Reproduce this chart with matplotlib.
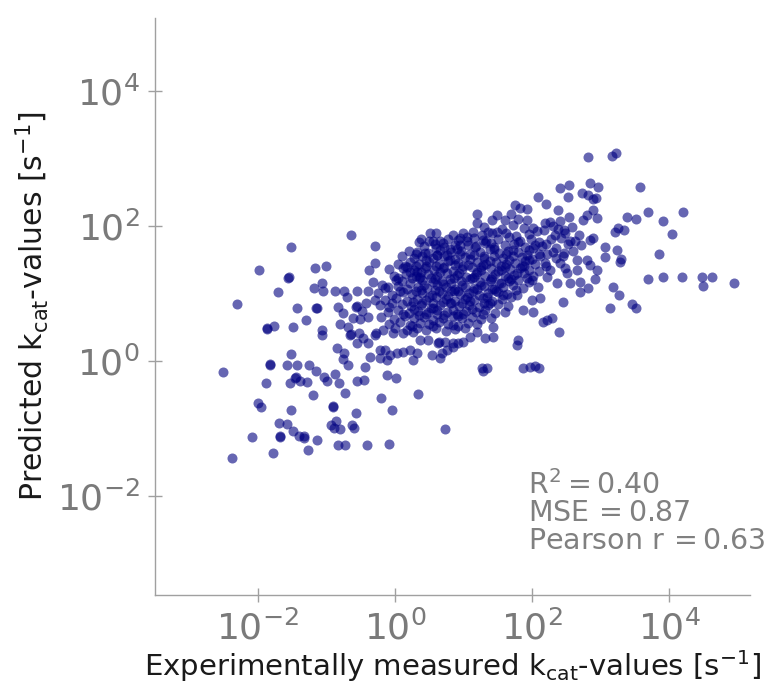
import matplotlib
matplotlib.use("Agg")
import numpy as np
import matplotlib.pyplot as plt

# log10 of kcat [1/s]: scattered points around the main cloud
outer_measured = [
    -0.64, -1.52, -0.29, -1.99, -1.17, -1.01, -1.56, -1.55, -0.29, -0.38,
    -0.32, -1.71, -1.18, -1.07, -1.05, -0.88, -0.74, -0.55, -0.70, -0.39,
    -2.31, -1.43, -1.15, -1.14, -0.83, -0.76, -0.57, -0.56, -0.48, -0.42,
    -0.29, -1.30, -0.61, -0.51, -0.39, -1.87, -1.86, -1.77, -1.49, -1.07,
    -1.07, -0.80, -0.69, -0.66, -0.64, -0.53, -0.47, -0.55, -0.39, -0.29,
    -0.85, -0.74, -0.76, -0.69, -1.52, -0.37, -0.44, -2.51, -1.83, -1.82,
    -1.58, -1.43, -1.26, -1.15, -1.46, -1.45, -1.53, -1.39, -1.28, -1.04,
    -0.99, -0.88, -0.82, -0.55, -0.45, -1.88, -1.20, -0.73, -2.00, -1.96,
    -1.52, -0.91, -0.90, -0.57, -1.69, -1.58, -1.49, -1.40, -1.33, -1.32,
    -0.93, -0.86, -0.80, -0.89, -0.63, -0.60, -2.09, -1.68, -1.67, -1.14,
    -0.83, -0.73, -0.41, -1.78, -1.27, -2.38, -0.09, 0.73, 0.34, -0.20,
    -0.04, -0.12, 0.01,
    -0.28, -0.18, -0.03, 0.12, 0.26, 0.37, 0.48, 0.63, 0.64, 0.73,
    0.85, 0.99, 1.09, 1.20, 1.31, 1.43, -0.22, -0.15, -0.07, 0.03,
    0.12, 0.22, 0.32, 0.26, -0.12, -0.22, 0.54, 0.69, 0.66, 0.76,
    0.85, 0.92, 1.27, 1.34, 1.28, 1.87, 1.97, 2.04, 2.10,
    1.20, 1.42, 1.49, 1.20, 1.14, 1.05, 0.51, 0.60, 0.66, 0.38,
    0.50, 0.95, 1.07, 0.88, 0.80, 1.28, 1.42, 1.49, 0.32, 0.44,
    0.61, 0.76, -0.09, 0.18, 0.22, 0.32, 0.37, -0.19, -0.10, 0.01,
    2.82, 3.17, 3.23, 2.41, 2.54, 2.85, 2.96, 2.09, 2.20, 2.53,
    2.73, 2.82, 2.89, 2.93, 1.75, 1.83, 1.93, 2.38, 2.89, 2.95,
    2.80, 2.74, 2.54, 2.41, 2.26, 1.61, 1.80, 1.93, 1.69, 2.01,
    2.19, 2.18, 2.38, 2.58, 3.21, 3.26, 2.85, 2.89, 3.07, 3.24,
    3.58, 3.39, 3.52, 3.69, 3.91, 4.20, 4.04, 3.34, 3.30, 3.29,
    3.85, 3.69, 3.91, 4.19, 4.48, 4.63, 4.50, 4.95, 3.18, 3.27,
    3.46, 3.52, 3.14, 3.07, 2.92, 2.70, 2.82, 2.39, 2.45, 2.22,
    2.29, 2.16, 1.80, 1.78, 1.43, 2.09, 2.00, 2.12, 1.87, 2.01,
    2.37, 2.55, 2.70, 2.51, 2.66, 2.85, 2.95, 2.80, 2.66, 2.22,
    2.26, 2.19, 2.41, 2.00, 1.87, 1.78, 1.58,
]
outer_predicted = [
    1.87, 1.69, 1.70, 1.35, 1.38, 1.41, 1.23, 1.24, 1.45, 1.35,
    1.17, 1.02, 1.08, 1.16, 1.04, 1.04, 1.04, 1.04, 0.95, 1.04,
    0.84, 0.78, 0.78, 0.79, 0.80, 0.71, 0.80, 0.81, 0.74, 0.86,
    0.90, 0.61, 0.64, 0.62, 0.65, 0.47, 0.48, 0.52, 0.50, 0.46,
    0.39, 0.55, 0.50, 0.39, 0.40, 0.41, 0.34, 0.27, 0.27, 0.39,
    0.19, 0.12, 0.03, -0.06, 0.10, 0.06, -0.09, -0.16, -0.06, -0.05,
    -0.06, -0.06, -0.06, -0.15, -0.25, -0.24, -0.33, -0.30, -0.31, -0.24,
    -0.30, -0.19, -0.33, -0.30, -0.28, -0.33, -0.50, -0.47, -0.62, -0.68,
    -0.73, -0.68, -0.67, -0.77, -0.92, -0.93, -1.04, -1.11, -1.14, -1.12,
    -0.95, -0.89, -1.01, -0.99, -0.95, -0.99, -1.13, -1.13, -1.11, -1.18,
    -1.24, -1.24, -1.24, -1.36, -1.32, -1.44, -1.23, -1.01, -0.49, -0.55,
    -0.73, -0.21, -0.25,
    0.41, 0.46, 0.41, 0.41, 0.43, 0.31, 0.31, 0.27, 0.28, 0.28,
    0.27, 0.28, 0.36, 0.43, 0.34, 0.36, 0.16, 0.16, 0.09, 0.12,
    0.13, 0.16, 0.12, 0.01, 0.01, 0.04, 0.09, 0.12, 0.04, 0.16,
    0.21, 0.27, -0.10, -0.10, -0.15, -0.10, -0.09, -0.07, -0.10,
    2.18, 2.09, 2.16, 2.04, 1.91, 1.84, 1.90, 1.90, 1.78, 1.81,
    1.78, 1.82, 1.72, 1.72, 1.66, 1.79, 1.90, 1.91, 1.61, 1.60,
    1.57, 1.57, 1.36, 1.39, 1.32, 1.32, 1.24, 1.13, 1.10, 1.20,
    3.02, 3.04, 3.08, 2.56, 2.61, 2.64, 2.58, 2.43, 2.33, 2.43,
    2.49, 2.46, 2.40, 2.41, 2.31, 2.27, 2.25, 2.24, 2.24, 2.12,
    2.16, 2.09, 2.13, 2.07, 2.06, 2.09, 2.10, 2.09, 2.18, 1.97,
    2.04, 1.94, 1.95, 1.98, 1.91, 1.97, 1.79, 1.82, 1.69, 1.64,
    2.58, 2.13, 2.10, 2.21, 2.07, 2.21, 1.88, 1.94, 1.51, 1.47,
    1.58, 1.21, 1.24, 1.24, 1.24, 1.24, 1.11, 1.16, 1.10, 0.98,
    0.84, 0.78, 0.78, 1.54, 1.21, 1.02, 1.08, 0.43, 0.87, 0.61,
    0.64, 0.58, 0.31, 0.24, 0.50, 1.10, 0.90, 0.93, 0.76, 0.73,
    1.16, 1.16, 1.17, 1.30, 1.35, 1.42, 1.35, 1.50, 1.50, 1.24,
    1.35, 1.45, 1.45, 1.20, 1.08, 0.98, 0.98,
]

# log10 of kcat [1/s]: dense central cloud
core_measured = [
    1.30, 1.56, 1.72, 1.88, 2.30, 2.47,
    0.85, 1.00, 1.27, 1.36, 1.62, 1.76, 1.95, 2.07, 2.33, 2.48, 2.68,
    0.55, 0.78, 0.92, 1.15, 1.33, 1.50, 1.66, 1.82, 1.98, 2.10, 2.28, 2.42, 2.62,
    0.42, 0.58, 0.72, 0.95, 1.18, 1.32, 1.45, 1.60, 1.74, 1.90, 2.05, 2.15, 2.35, 2.52, 2.72,
    0.20, 0.48, 0.66, 0.82, 0.97, 1.10, 1.24, 1.38, 1.52, 1.65, 1.80, 1.95, 2.10, 2.30, 2.47, 2.60,
    0.10, 0.28, 0.40, 0.55, 0.72, 0.88, 1.02, 1.16, 1.30, 1.44, 1.58, 1.72, 1.86, 2.00, 2.12, 2.35,
    0.05, 0.22, 0.35, 0.50, 0.64, 0.78, 0.92, 1.06, 1.20, 1.33, 1.48, 1.62, 1.75, 1.90, 2.04,
    0.12, 0.28, 0.44, 0.57, 0.70, 0.85, 0.98, 1.12, 1.26, 1.40, 1.55, 1.68, 1.82, 1.96, 2.10,
    -0.02, 0.16, 0.30, 0.48, 0.62, 0.76, 0.90, 1.04, 1.18, 1.32, 1.46, 1.60, 1.74, 1.88, 2.02,
    0.10, 0.22, 0.40, 0.55, 0.68, 0.82, 0.96, 1.10, 1.24, 1.38, 1.52, 1.66, 1.80, 1.95,
    -0.15, 0.05, 0.18, 0.33, 0.47, 0.62, 0.75, 0.88, 1.02, 1.16, 1.30, 1.45, 1.58, 1.72,
    -0.25, -0.05, 0.12, 0.25, 0.40, 0.54, 0.68, 0.82, 0.95, 1.08, 1.22, 1.36, 1.50, 1.64,
    -0.15, 0.02, 0.18, 0.32, 0.46, 0.60, 0.74, 0.88, 1.02, 1.15, 1.28, 1.42, 1.56, 1.70,
    -0.22, -0.08, 0.10, 0.24, 0.38, 0.52, 0.66, 0.80, 0.94, 1.08, 1.22, 1.36, 1.50, 1.65,
    -0.10, 0.05, 0.20, 0.34, 0.48, 0.62, 0.76, 0.90, 1.04, 1.18, 1.32, 1.46, 1.60,
    -0.20, -0.02, 0.14, 0.28, 0.42, 0.56, 0.70, 0.84, 0.98, 1.12, 1.26, 1.40,
    -0.08, 0.08, 0.22, 0.36, 0.50, 0.64, 0.78, 0.92, 1.06, 1.20,
    0.00, 0.18, 0.32, 0.46, 0.60, 0.74, 0.88, 1.02,
    0.60, 0.90, 1.17, 1.45, 1.72, 2.02,
    0.45, 0.80, 1.10, 1.38, 1.66, 1.95,
    0.30, 0.60, 0.88, 1.25, 1.55, 1.85,
    0.38, 0.66, 0.93, 1.20, 1.50, 1.78,
    0.25, 0.52, 0.80, 1.12, 1.42, 1.70,
    0.42, 0.70, 0.98, 1.25, 1.55,
    0.30, 0.58, 0.86, 1.14, 1.42,
    0.50, 0.78, 1.05, 1.35,
    0.40, 0.70, 0.98, 1.30,
    0.28, 0.56, 0.85, 1.12,
    0.35, 0.62, 0.92,
    0.35, 0.70, 1.05, 1.40, 1.80, 2.20, 2.55,
    0.30, 0.62, 0.95, 1.30, 1.62, 1.92, 2.22, 2.45,
    0.15, 0.45, 0.72, 1.00, 1.28, 1.60, 1.88, 2.20, 2.48,
    0.05, 0.35, 0.58, 0.86, 1.15, 1.40, 1.65, 1.92,
    0.08, 0.38, 0.65, 0.92, 1.20, 1.48, 1.76,
    -0.05, 0.26, 0.55, 0.82, 1.10, 1.38,
    0.12, 0.45, 0.72, 1.00, 1.28,
    0.25, 0.55, 0.85,
]
core_predicted = [
    1.99, 1.95, 2.02, 1.97, 2.00, 1.94,
    1.86, 1.90, 1.87, 1.91, 1.89, 1.85, 1.88, 1.92, 1.86, 1.89, 1.87,
    1.78, 1.81, 1.79, 1.82, 1.77, 1.80, 1.83, 1.78, 1.81, 1.76, 1.80, 1.82, 1.78,
    1.70, 1.73, 1.69, 1.72, 1.70, 1.74, 1.68, 1.71, 1.73, 1.69, 1.72, 1.70, 1.67, 1.73, 1.71,
    1.63, 1.60, 1.64, 1.61, 1.63, 1.59, 1.62, 1.65, 1.60, 1.63, 1.61, 1.64, 1.59, 1.62, 1.60, 1.63,
    1.55, 1.52, 1.56, 1.53, 1.55, 1.51, 1.54, 1.57, 1.53, 1.55, 1.52, 1.56, 1.54, 1.51, 1.55, 1.53,
    1.44, 1.47, 1.43, 1.46, 1.44, 1.48, 1.45, 1.42, 1.46, 1.44, 1.47, 1.43, 1.45, 1.48, 1.44,
    1.37, 1.34, 1.38, 1.35, 1.37, 1.33, 1.36, 1.39, 1.35, 1.37, 1.34, 1.36, 1.38, 1.35, 1.33,
    1.26, 1.29, 1.25, 1.28, 1.26, 1.30, 1.27, 1.24, 1.28, 1.26, 1.29, 1.25, 1.27, 1.30, 1.26,
    1.19, 1.16, 1.20, 1.17, 1.19, 1.15, 1.18, 1.21, 1.17, 1.19, 1.16, 1.18, 1.20, 1.17,
    1.08, 1.11, 1.07, 1.10, 1.08, 1.12, 1.09, 1.06, 1.10, 1.08, 1.11, 1.07, 1.09, 1.12,
    1.01, 0.98, 1.02, 0.99, 1.01, 0.97, 1.00, 1.03, 0.99, 1.01, 0.98, 1.00, 1.02, 0.99,
    0.90, 0.93, 0.89, 0.92, 0.90, 0.94, 0.91, 0.88, 0.92, 0.90, 0.93, 0.89, 0.91, 0.94,
    0.83, 0.80, 0.84, 0.81, 0.83, 0.79, 0.82, 0.85, 0.81, 0.83, 0.80, 0.82, 0.84, 0.81,
    0.72, 0.75, 0.71, 0.74, 0.72, 0.76, 0.73, 0.70, 0.74, 0.72, 0.75, 0.71, 0.73,
    0.65, 0.62, 0.66, 0.63, 0.65, 0.61, 0.64, 0.67, 0.63, 0.65, 0.62, 0.64,
    0.54, 0.57, 0.53, 0.56, 0.54, 0.58, 0.55, 0.52, 0.56, 0.54,
    0.48, 0.45, 0.49, 0.46, 0.48, 0.44, 0.47, 0.49,
    1.67, 1.65, 1.68, 1.66, 1.64, 1.67,
    1.50, 1.49, 1.51, 1.48, 1.50, 1.49,
    1.41, 1.40, 1.42, 1.39, 1.41, 1.40,
    1.31, 1.32, 1.30, 1.31, 1.33, 1.30,
    1.22, 1.23, 1.21, 1.22, 1.24, 1.21,
    1.13, 1.14, 1.12, 1.13, 1.15,
    1.04, 1.05, 1.03, 1.04, 1.06,
    0.95, 0.96, 0.94, 0.95,
    0.86, 0.87, 0.85, 0.86,
    0.77, 0.78, 0.76, 0.77,
    0.68, 0.69, 0.67,
    1.76, 1.75, 1.77, 1.74, 1.76, 1.73, 1.77,
    1.58, 1.57, 1.59, 1.56, 1.58, 1.57, 1.58, 1.56,
    1.40, 1.41, 1.39, 1.40, 1.42, 1.39, 1.41, 1.40, 1.38,
    1.22, 1.23, 1.21, 1.22, 1.24, 1.21, 1.23, 1.22,
    1.04, 1.05, 1.03, 1.04, 1.06, 1.04, 1.05,
    0.86, 0.87, 0.85, 0.86, 0.88, 0.86,
    0.69, 0.70, 0.68, 0.69, 0.70,
    0.52, 0.51, 0.53,
]

r2 = 0.40
mse = 0.87
pearson_r = 0.63

tick_exponents = [-2, 0, 2, 4]

plt.rcParams['mathtext.default'] = 'regular'
plt.rcParams['font.family'] = 'DejaVu Sans'

measured = 10.0 ** np.array(outer_measured + core_measured)
predicted = 10.0 ** np.array(outer_predicted + core_predicted)

fig = plt.figure(figsize=(7.69, 6.87), dpi=100)
ax = fig.add_axes([0.2016, 0.1339, 0.7737, 0.8399])

ax.scatter(measured, predicted, s=52, c='navy', alpha=0.6, linewidths=0)

ax.set_xscale('log')
ax.set_yscale('log')
ax.set_xlim(10 ** -3.5, 10 ** 5.18)
ax.set_ylim(10 ** -3.47, 10 ** 5.08)
ticks = [10.0 ** e for e in tick_exponents]
ax.set_xticks(ticks)
ax.set_yticks(ticks)
ax.minorticks_off()

for side in ['top', 'right']:
    ax.spines[side].set_visible(False)
for side in ['left', 'bottom']:
    ax.spines[side].set_color('#a0a0a0')
    ax.spines[side].set_linewidth(1.0)

ax.tick_params(direction='inout', length=10, width=1, color='#a0a0a0',
               labelsize=26, labelcolor='#7a7a7a', pad=6)

ax.set_xlabel('Experimentally measured $k_{cat}$-values [$s^{-1}$]',
              fontsize=21, color='#1a1a1a', labelpad=1)
ax.set_ylabel('Predicted $k_{cat}$-values [$s^{-1}$]',
              fontsize=21.5, color='#1a1a1a', labelpad=4)

stats = ['$R^2 = %.2f$' % r2, 'MSE$\\,= %.2f$' % mse,
         'Pearson r$\\,= %.2f$' % pearson_r]
for i, line in enumerate(stats):
    ax.text(0.627, 0.191 - i * 0.0485, line, transform=ax.transAxes,
            fontsize=20.5, color='#808080', va='center', ha='left')

fig.savefig('out.png', dpi=100)
